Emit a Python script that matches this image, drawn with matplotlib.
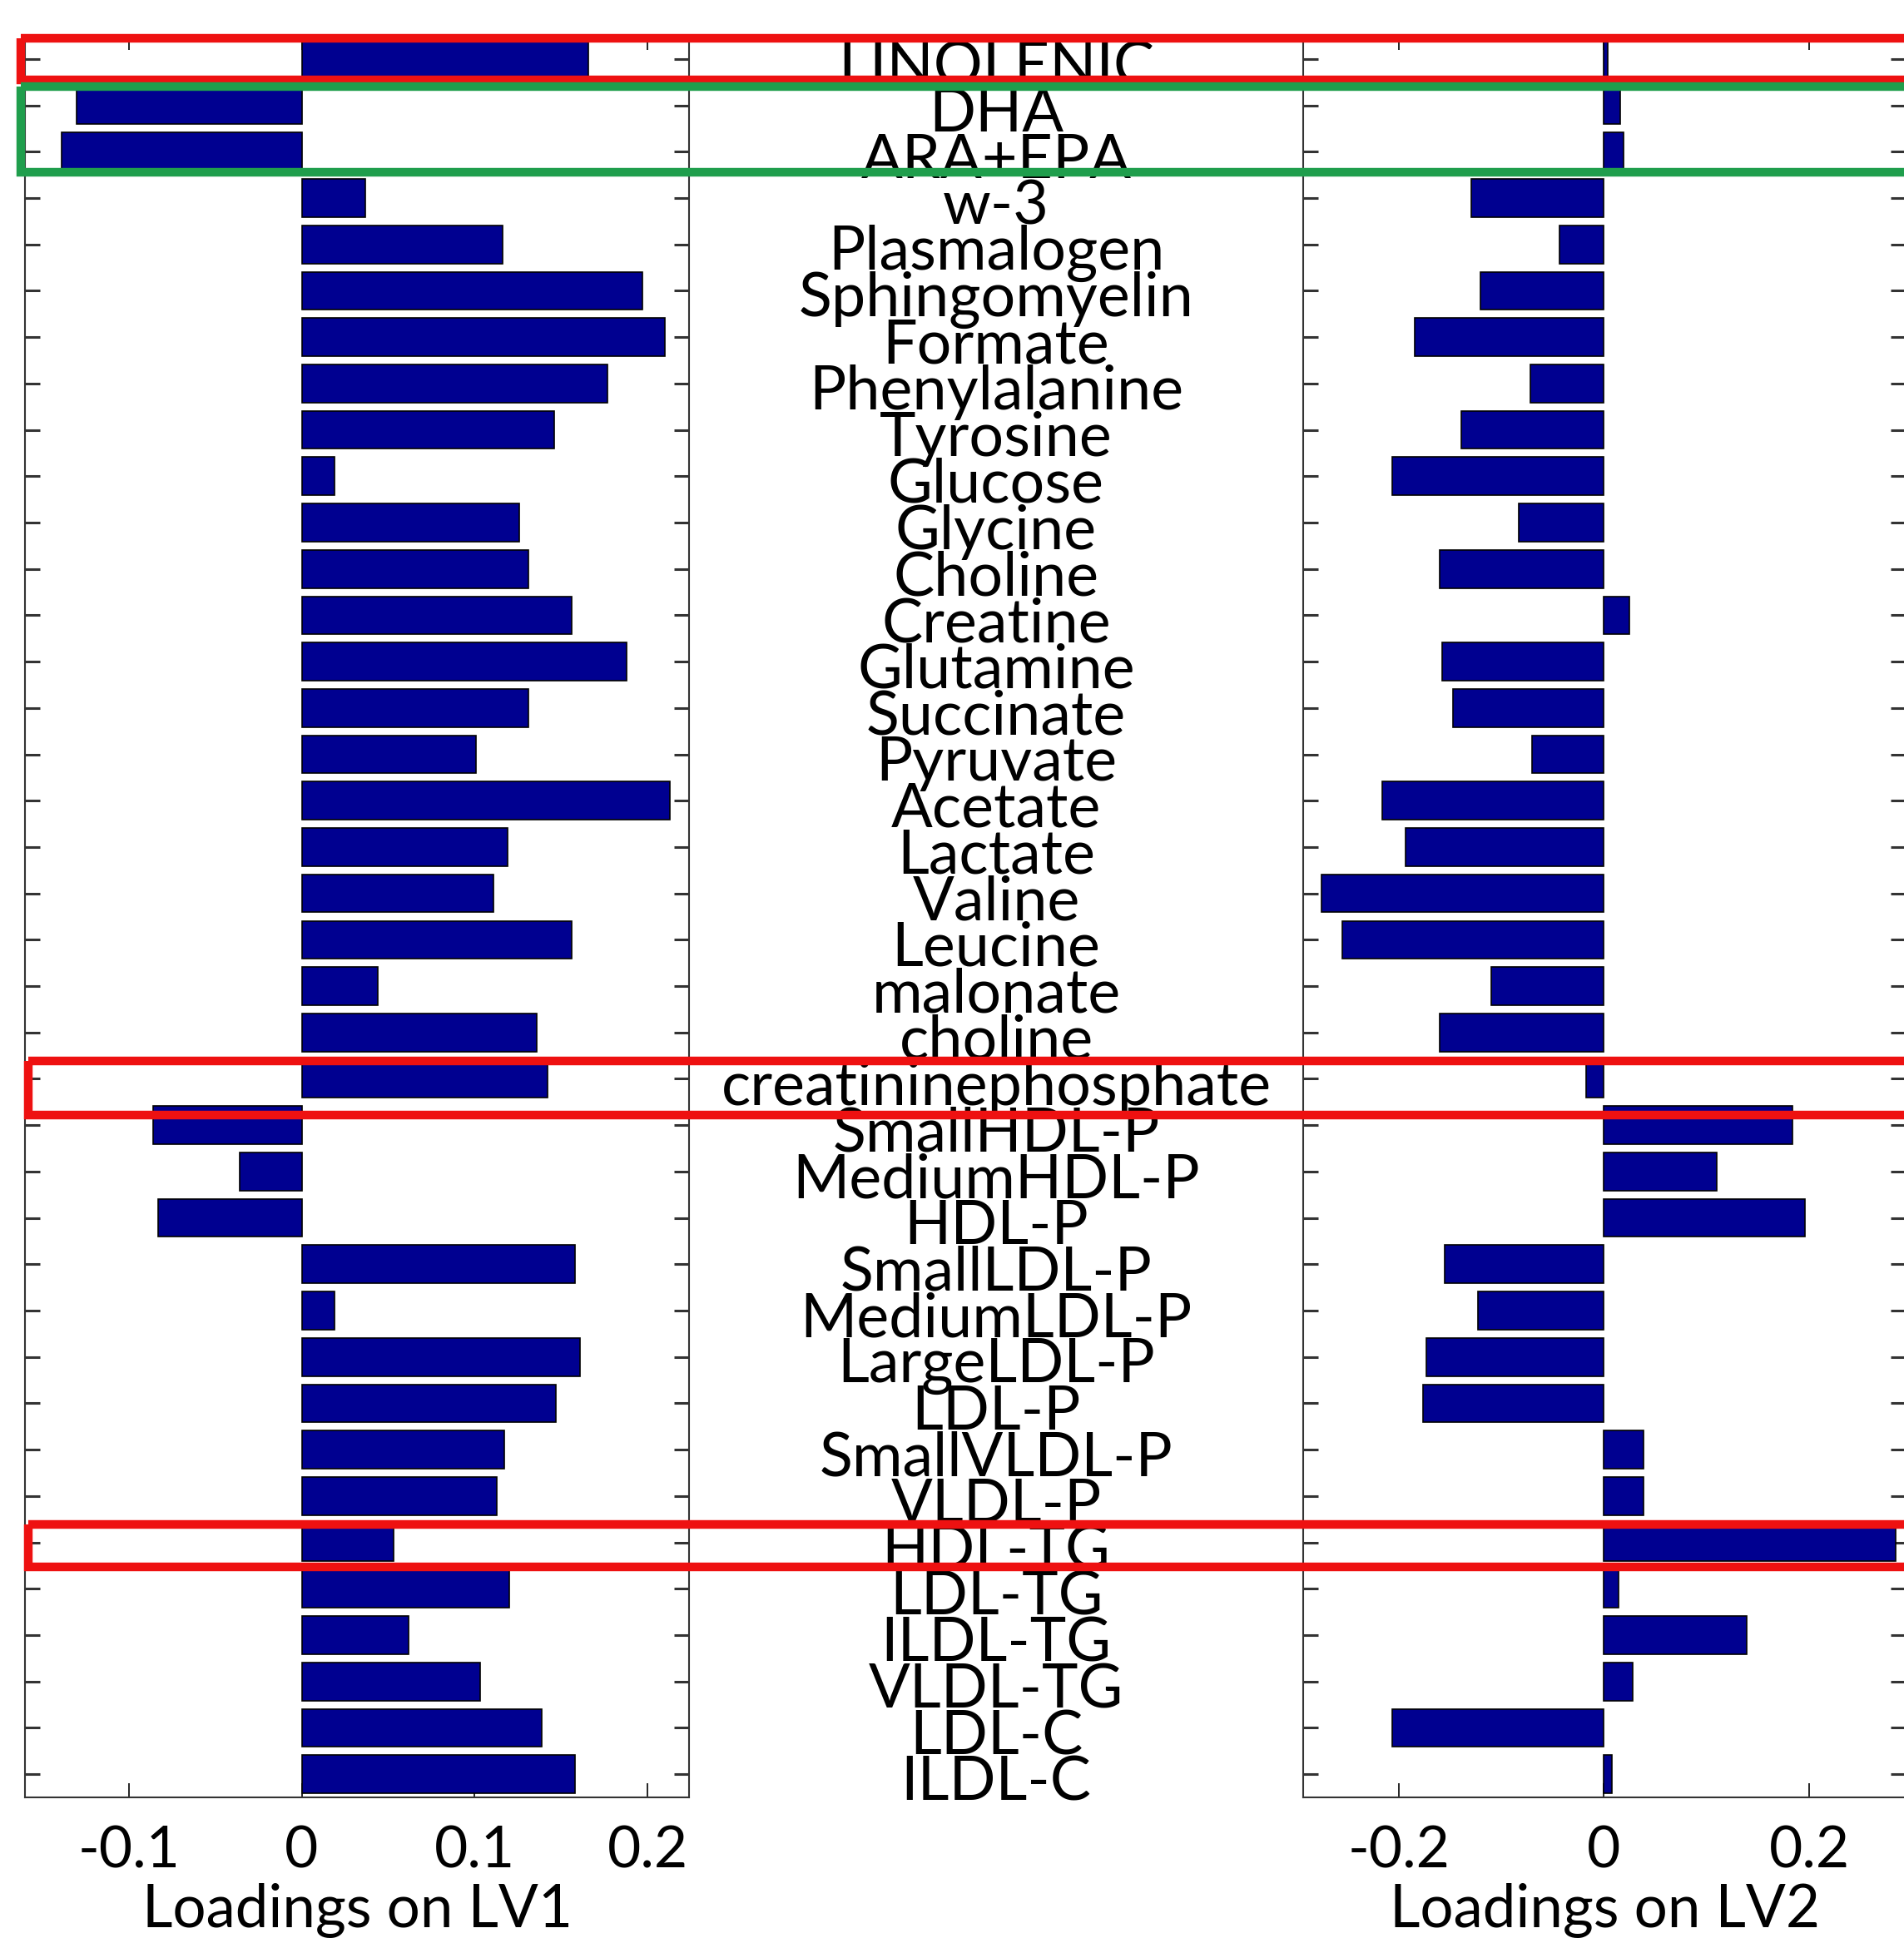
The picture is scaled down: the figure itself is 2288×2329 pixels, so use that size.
import matplotlib
matplotlib.use("Agg")
import matplotlib.pyplot as plt
from matplotlib.patches import Rectangle
from matplotlib.transforms import blended_transform_factory
import numpy as np

plt.rcParams['font.family'] = ['Lato', 'DejaVu Sans']

categories = ["LINOLENIC", "DHA", "ARA+EPA", "w-3", "Plasmalogen", "Sphingomyelin",
              "Formate", "Phenylalanine", "Tyrosine", "Glucose", "Glycine", "Choline",
              "Creatine", "Glutamine", "Succinate", "Pyruvate", "Acetate", "Lactate",
              "Valine", "Leucine", "malonate", "choline", "creatininephosphate",
              "SmallHDL-P", "MediumHDL-P", "HDL-P", "SmallLDL-P", "MediumLDL-P",
              "LargeLDL-P", "LDL-P", "SmallVLDL-P", "VLDL-P", "HDL-TG", "LDL-TG",
              "ILDL-TG", "VLDL-TG", "LDL-C", "ILDL-C"]

lv1 = [0.166, -0.130, -0.139, 0.037, 0.116, 0.197,
       0.210, 0.177, 0.146, 0.019, 0.126, 0.131,
       0.156, 0.188, 0.131, 0.101, 0.213, 0.119,
       0.111, 0.156, 0.044, 0.136, 0.142,
       -0.086, -0.036, -0.083, 0.158, 0.019,
       0.161, 0.147, 0.117, 0.113, 0.053, 0.120,
       0.062, 0.103, 0.139, 0.158]

lv2 = [0.004, 0.016, 0.019, -0.129, -0.043, -0.120,
       -0.184, -0.072, -0.139, -0.206, -0.083, -0.160,
       0.025, -0.158, -0.147, -0.070, -0.216, -0.193,
       -0.275, -0.255, -0.110, -0.160, -0.017,
       0.184, 0.110, 0.196, -0.155, -0.123,
       -0.173, -0.176, 0.039, 0.039, 0.284, 0.014,
       0.139, 0.028, -0.206, 0.008]

lv1_ticks = [-0.1, 0, 0.1, 0.2]
lv1_ticklabels = ["-0.1", "0", "0.1", "0.2"]
lv2_ticks = [-0.2, 0, 0.2]
lv2_ticklabels = ["-0.2", "0", "0.2"]
xlabels = ["Loadings on LV1", "Loadings on LV2"]

# highlight boxes: (first category, last category, colour, pad above, pad below, left px)
highlights = [("LINOLENIC", "LINOLENIC", "#ee1111", 0.44, 0.45, 25),
              ("DHA", "ARA+EPA", "#1f9e4c", 0.41, 0.45, 25),
              ("creatininephosphate", "creatininephosphate", "#ee1111", 0.38, 0.78, 34),
              ("HDL-TG", "HDL-TG", "#ee1111", 0.38, 0.52, 34)]

W, H = 2288, 2329
fig = plt.figure(figsize=(W / 100, H / 100), dpi=100)
fig.patch.set_facecolor("white")

bottom = (H - 2160) / H
height = (2160 - 43) / H
ax1 = fig.add_axes([30 / W, bottom, (828 - 30) / W, height])
ax2 = fig.add_axes([1566 / W, bottom, (2290 - 1566) / W, height])

y = np.arange(len(categories))
barcolor = "#000090"
FS_TICK = 50
FS_LAB = 51
FS_CAT = 53

for ax, vals, xlim, ticks, tlabels, xl in [
        (ax1, lv1, (-0.16, 0.224), lv1_ticks, lv1_ticklabels, xlabels[0]),
        (ax2, lv2, (-0.293, 0.294), lv2_ticks, lv2_ticklabels, xlabels[1])]:
    ax.barh(y, vals, height=0.82, color=barcolor, edgecolor="black", linewidth=1.2, zorder=2)
    ax.set_ylim(len(categories) - 0.5, -0.5)
    ax.set_xlim(*xlim)
    ax.set_yticks(y)
    ax.set_yticklabels([])
    ax.set_xticks(ticks)
    ax.set_xticklabels(tlabels, fontsize=FS_TICK)
    ax.tick_params(axis="y", direction="in", left=True, right=True, length=13, width=2.2, color="#333333")
    ax.tick_params(axis="x", direction="in", top=True, bottom=True, length=12, width=1.2, pad=24)
    ax.set_xlabel(xl, fontsize=FS_LAB, labelpad=5)
    for s in ax.spines.values():
        s.set_linewidth(1.5)
        s.set_color("#333333")

# category labels centred in the gap between the panels
tr = blended_transform_factory(fig.transFigure, ax1.transData)
xc = (828 + 1566) / 2 / W
for yi, name in zip(y, categories):
    fig.text(xc, yi + 0.2, name, transform=tr, ha="center", va="center", fontsize=FS_CAT)

# highlight rectangles
for first, last, col, padtop, padbot, xleft in highlights:
    i0 = categories.index(first)
    i1 = categories.index(last)
    rect = Rectangle((xleft / W, i0 - padtop), 1.02 - xleft / W, (i1 + padbot) - (i0 - padtop),
                     transform=tr, fill=False, edgecolor=col, linewidth=7.5, zorder=5)
    fig.add_artist(rect)

fig.savefig("out.png", dpi=100)
